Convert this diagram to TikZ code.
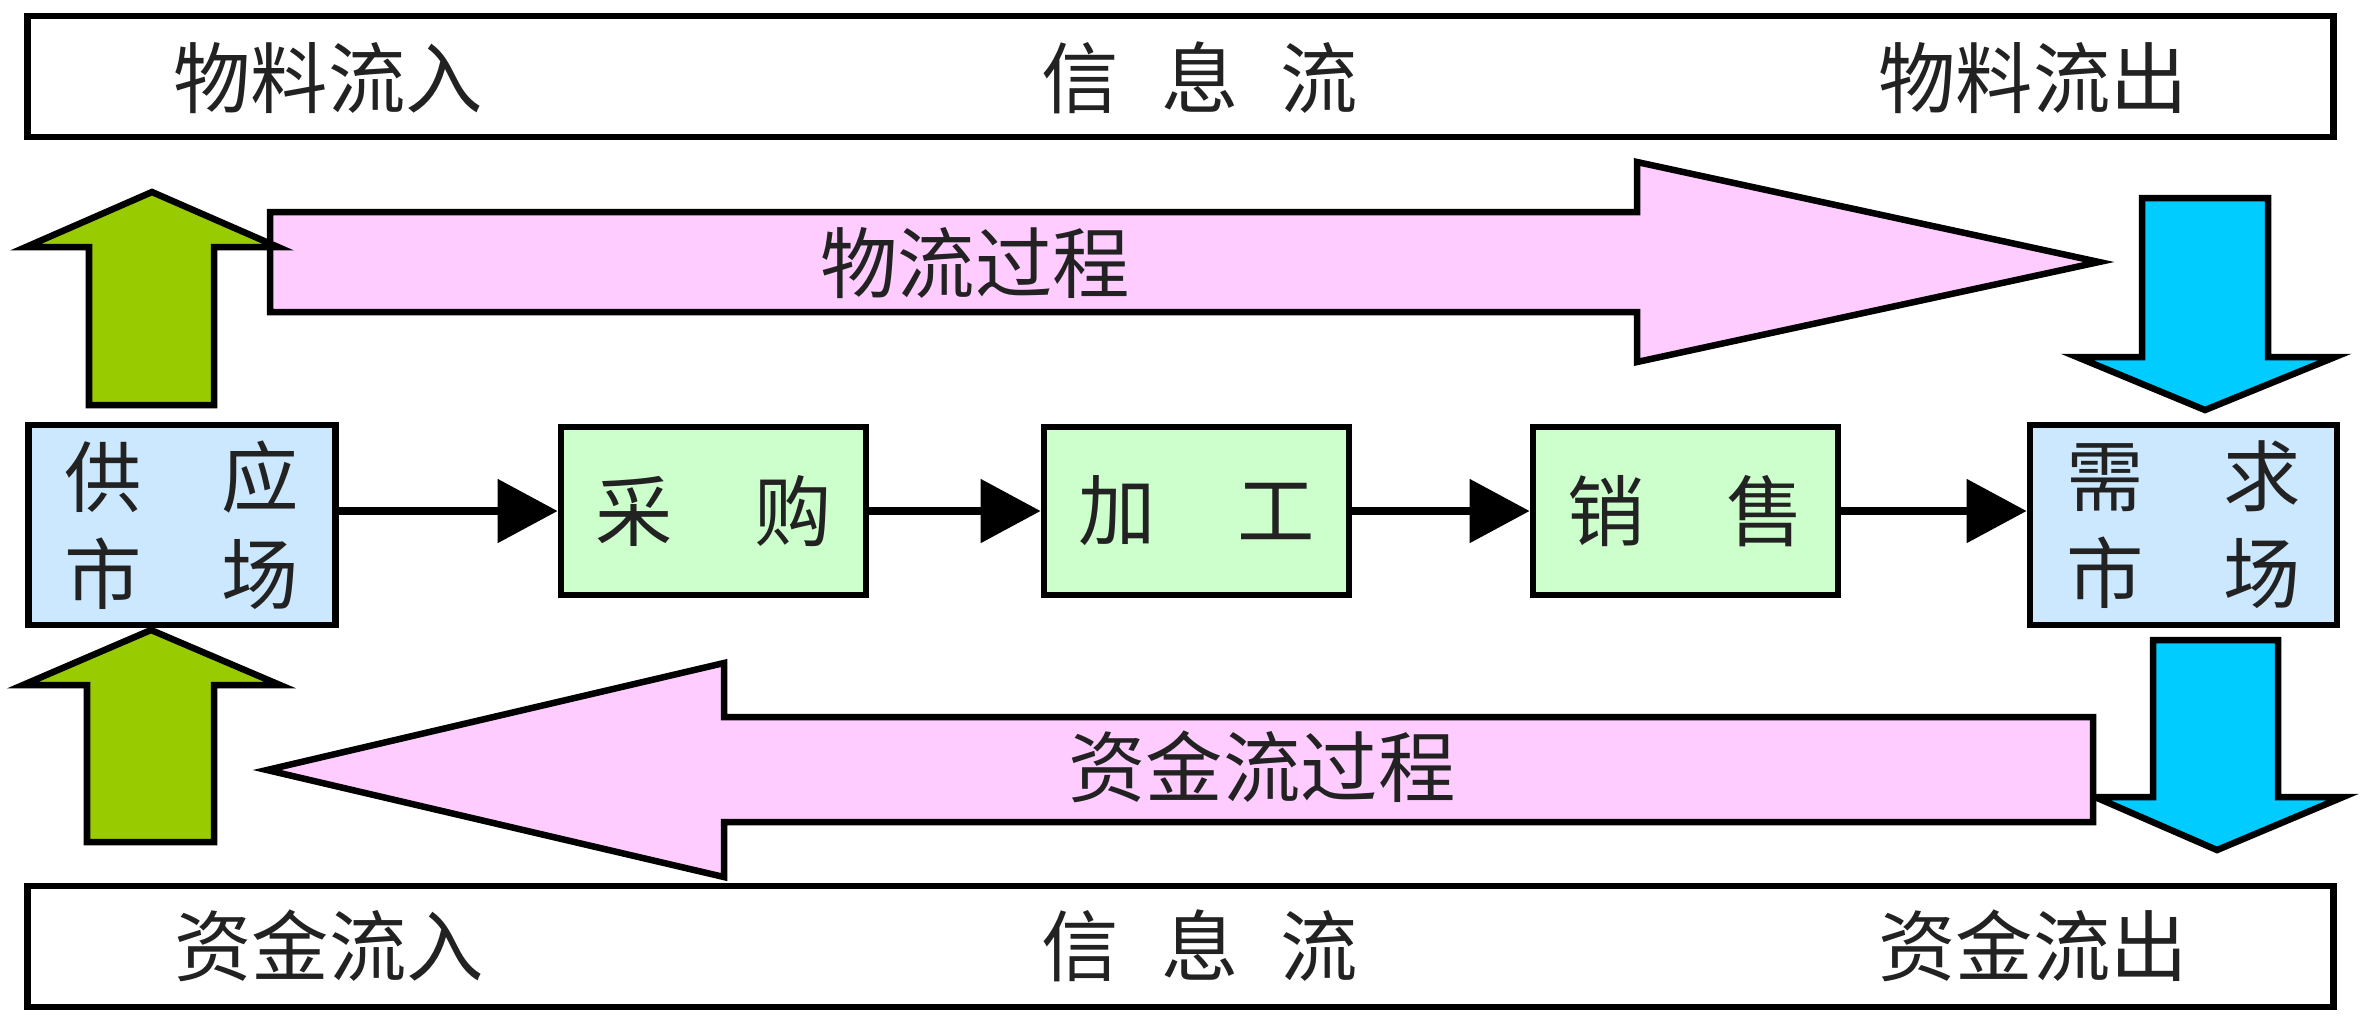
\documentclass[tikz,border=0pt]{standalone}
\usepackage{fontspec}
\setmainfont{Noto Sans CJK SC}
\usetikzlibrary{arrows.meta}
\definecolor{pinkf}{HTML}{FFCCFF}
\definecolor{greenf}{HTML}{99CC00}
\definecolor{bluef}{HTML}{00CCFF}
\definecolor{mktf}{HTML}{CCE8FF}
\definecolor{procf}{HTML}{CCFFCC}
\definecolor{txt}{HTML}{222222}
\begin{document}
\begin{tikzpicture}[x=0.01cm,y=-0.01cm,
  outl/.style={draw=black, line width=0.065cm, line join=miter},
  cjk/.style={text=txt, font=\fontsize{22pt}{27.6pt}\selectfont},
  bar/.style={outl, fill=white, minimum width=23.05cm, minimum height=1.21cm, inner sep=0pt},
  lbl/.style={cjk, inner sep=0pt},
  mkt/.style={outl, cjk, fill=mktf, minimum width=3.07cm, minimum height=2.0cm, align=center, inner sep=0pt},
  procbox/.style={outl, cjk, fill=procf, minimum width=3.05cm, minimum height=1.68cm, inner sep=0pt},
  conn/.style={line width=0.085cm, -{Triangle[length=0.6cm,width=0.62cm]}},
  pinkarrow/.style={outl, fill=pinkf},
  greenarrow/.style={outl, fill=greenf},
  bluearrow/.style={outl, fill=bluef}
]
\useasboundingbox (0,0) rectangle (2361,1023);

% top and bottom bars
\node[bar] (topbar) at (1180.5,76.5) {};
\node[bar] (botbar) at (1180.5,946.5) {};
\node[lbl] (tin)   at (328,78)  {物料流入};
\node[lbl] (tinfo) at (1200,78) {信\hspace{0.42cm}息\hspace{0.42cm}流};
\node[lbl] (tout)  at (2033,78) {物料流出};
\node[lbl] (bin)   at (329,946) {资金流入};
\node[lbl] (binfo) at (1200,946) {信\hspace{0.42cm}息\hspace{0.42cm}流};
\node[lbl] (bout)  at (2033,946) {资金流出};

% big block arrows
\filldraw[pinkarrow] (270,212) -- (1637,212) -- (1637,162) -- (2099,262)
  -- (1637,362) -- (1637,312) -- (270,312) -- cycle;
\node[lbl] (wl) at (975,263) {物流过程};

\filldraw[bluearrow] (2153,640) -- (2278,640) -- (2278,797) -- (2343,797)
  -- (2217,850) -- (2095,797) -- (2153,797) -- cycle;
\filldraw[pinkarrow] (2093,717) -- (724,717) -- (724,663) -- (267,770)
  -- (724,877) -- (724,822) -- (2093,822) -- cycle;
\node[lbl] (zl) at (1262,767) {资金流过程};

\filldraw[greenarrow] (89,405) -- (89,247) -- (26,247) -- (152,192)
  -- (278,247) -- (214,247) -- (214,405) -- cycle;
\filldraw[greenarrow] (87,842) -- (87,685) -- (23,685) -- (151,630)
  -- (280,685) -- (214,685) -- (214,842) -- cycle;
\filldraw[bluearrow] (2142,198) -- (2268,198) -- (2268,357) -- (2335,357)
  -- (2205,410) -- (2077,357) -- (2142,357) -- cycle;

% process chain
\node[mkt] (sup) at (182,525) {供\hspace{0.8cm}应\\市\hspace{0.8cm}场};
\node[procbox] (buy)  at (713.5,511)  {\raisebox{-0.2cm}{采\hspace{0.82cm}购}};
\node[procbox] (proc) at (1196.5,511) {\raisebox{-0.2cm}{加\hspace{0.82cm}工}};
\node[procbox] (sell) at (1685.5,511) {\raisebox{-0.2cm}{销\hspace{0.82cm}售}};
\node[mkt] (dem) at (2183.5,525) {需\hspace{0.8cm}求\\市\hspace{0.8cm}场};

\draw[conn] (sup.east |- buy.west) -- (buy.west);
\draw[conn] (buy.east) -- (proc.west);
\draw[conn] (proc.east) -- (sell.west);
\draw[conn] (sell.east) -- (sell.east -| dem.west);
\end{tikzpicture}
\end{document}
